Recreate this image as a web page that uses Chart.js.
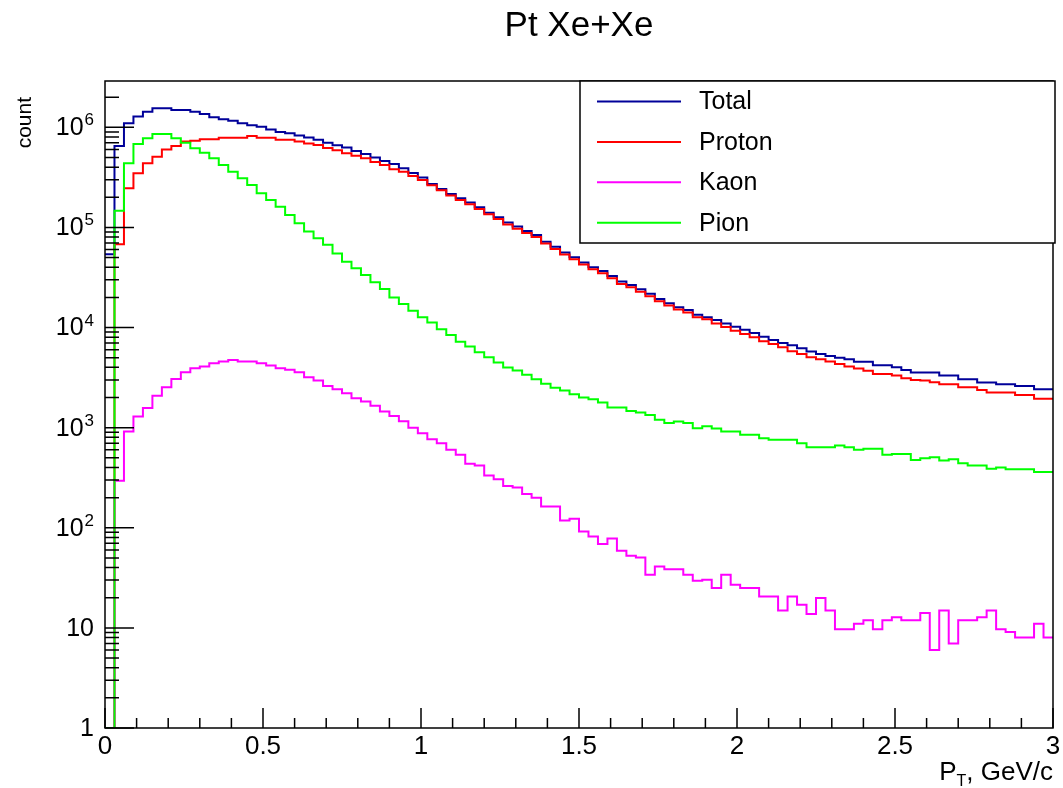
<!DOCTYPE html>
<html>
<head>
<meta charset="utf-8">
<script src="https://cdn.jsdelivr.net/npm/chart.js@4.4.1/dist/chart.umd.min.js"></script>
<style>
  html, body { margin: 0; padding: 0; background: #fff; }
</style>
</head>
<body>
<canvas id="ptChart" width="1063" height="788"></canvas>
<script>
const FONT = '"Liberation Sans", Arial, Helvetica, sans-serif';

// 100 bins, 0 .. 3 GeV/c
const binWidth = 0.03;
const xMin = 0, xMax = 3;
const yMin = 1, yMax = 2.9e6;

const seriesNames = ['Total', 'Proton', 'Kaon', 'Pion'];
const seriesColors = ['#000099', '#ff0000', '#ff00ff', '#00ff00'];

const total = [
  5.4e4, 6.5e5, 1.10e6, 1.28e6, 1.43e6, 1.55e6, 1.55e6, 1.49e6, 1.49e6, 1.43e6,
  1.36e6, 1.26e6, 1.20e6, 1.16e6, 1.10e6, 1.05e6, 1.01e6, 9.5e5, 9.0e5, 8.7e5,
  8.3e5, 7.9e5, 7.5e5, 7.0e5, 6.6e5, 6.3e5, 5.8e5, 5.4e5, 5.0e5, 4.6e5,
  4.3e5, 3.9e5, 3.5e5, 3.15e5, 2.72e5, 2.42e5, 2.16e5, 1.95e5, 1.77e5, 1.59e5,
  1.40e5, 1.26e5, 1.12e5, 1.02e5, 9.2e4, 8.4e4, 7.2e4, 6.4e4, 5.6e4, 5.04e4,
  4.45e4, 4.0e4, 3.67e4, 3.27e4, 2.88e4, 2.66e4, 2.41e4, 2.17e4, 1.93e4, 1.75e4,
  1.59e4, 1.50e4, 1.34e4, 1.27e4, 1.19e4, 1.10e4, 1.02e4, 9.5e3, 8.8e3, 8.1e3,
  7.5e3, 7.0e3, 6.65e3, 6.2e3, 5.75e3, 5.45e3, 5.2e3, 5.0e3, 4.82e3, 4.54e3,
  4.54e3, 4.2e3, 4.2e3, 4.01e3, 3.77e3, 3.55e3, 3.55e3, 3.55e3, 3.31e3, 3.31e3,
  3.05e3, 3.05e3, 2.82e3, 2.82e3, 2.72e3, 2.72e3, 2.61e3, 2.61e3, 2.42e3, 2.42e3
];

const proton = [
  1, 6.8e4, 2.46e5, 3.47e5, 4.37e5, 5.09e5, 6.0e5, 6.5e5, 7.2e5, 7.35e5,
  7.6e5, 7.6e5, 7.87e5, 7.87e5, 7.87e5, 8.2e5, 7.87e5, 7.87e5, 7.5e5, 7.5e5,
  7.2e5, 6.9e5, 6.65e5, 6.2e5, 5.9e5, 5.5e5, 5.2e5, 4.9e5, 4.5e5, 4.2e5,
  3.8e5, 3.6e5, 3.26e5, 2.97e5, 2.63e5, 2.35e5, 2.08e5, 1.88e5, 1.70e5, 1.53e5,
  1.35e5, 1.21e5, 1.07e5, 9.7e4, 8.8e4, 8.0e4, 6.9e4, 6.1e4, 5.35e4, 4.8e4,
  4.25e4, 3.82e4, 3.48e4, 3.1e4, 2.72e4, 2.52e4, 2.28e4, 2.05e4, 1.83e4, 1.66e4,
  1.51e4, 1.41e4, 1.27e4, 1.21e4, 1.10e4, 1.01e4, 9.3e3, 8.6e3, 8.0e3, 7.3e3,
  6.86e3, 6.36e3, 5.8e3, 5.45e3, 5.05e3, 4.82e3, 4.57e3, 4.33e3, 4.07e3, 3.89e3,
  3.71e3, 3.44e3, 3.44e3, 3.31e3, 3.12e3, 3.0e3, 2.95e3, 2.84e3, 2.72e3, 2.72e3,
  2.53e3, 2.53e3, 2.38e3, 2.24e3, 2.24e3, 2.24e3, 2.12e3, 2.12e3, 1.94e3, 1.94e3
];

const kaon = [
  1, 294, 914, 1290, 1567, 2077, 2535, 3070, 3580, 3930,
  4080, 4400, 4570, 4750, 4570, 4570, 4400, 4170, 3930, 3780,
  3580, 3190, 2950, 2610, 2420, 2210, 1970, 1820, 1650, 1450,
  1310, 1160, 1000, 881, 767, 700, 600, 535, 435, 419,
  333, 306, 262, 252, 217, 200, 163, 163, 118, 123,
  92, 82, 69, 78, 59, 52.5, 50.5, 34, 41, 38.6,
  38.6, 34, 29.5, 30.2, 25, 34, 27, 25, 25, 20.6,
  20.6, 14.9, 20.6, 17, 13.8, 19.9, 14.9, 9.7, 9.7, 11,
  11.9, 9.7, 11.9, 12.8, 11.9, 11.9, 14.1, 6.0, 14.9, 7.0,
  11.9, 11.9, 12.8, 14.9, 9.7, 9.1, 8.0, 8.0, 11, 8.0
];

const pion = [
  1, 1.47e5, 4.37e5, 6.8e5, 7.76e5, 8.57e5, 8.57e5, 7.76e5, 7.0e5, 6.17e5,
  5.58e5, 4.9e5, 4.2e5, 3.6e5, 3.09e5, 2.65e5, 2.19e5, 1.88e5, 1.61e5, 1.33e5,
  1.10e5, 9.1e4, 7.8e4, 6.7e4, 5.5e4, 4.55e4, 3.9e4, 3.35e4, 2.83e4, 2.43e4,
  2.0e4, 1.72e4, 1.47e4, 1.27e4, 1.12e4, 9.6e3, 8.4e3, 7.2e3, 6.45e3, 5.66e3,
  5.05e3, 4.47e3, 3.98e3, 3.72e3, 3.37e3, 3.05e3, 2.74e3, 2.51e3, 2.35e3, 2.16e3,
  2.0e3, 1.92e3, 1.78e3, 1.59e3, 1.59e3, 1.47e3, 1.42e3, 1.34e3, 1.20e3, 1.11e3,
  1.15e3, 1.11e3, 986, 1030, 980, 914, 914, 847, 847, 785,
  755, 755, 755, 700, 638, 638, 638, 663, 638, 600,
  614, 614, 535, 547, 547, 475, 495, 507, 469, 484,
  442, 419, 419, 388, 400, 385, 385, 385, 360, 360
];

// y axis labels (ROOT style 10^n)
const yTickValues = [1, 10, 100, 1e3, 1e4, 1e5, 1e6];
const yTickBases = ['1', '10', '10', '10', '10', '10', '10'];
const yTickExps = ['', '', '2', '3', '4', '5', '6'];

// histogram outline: one point at each bin's left edge, plus the closing edge
function toSteps(values) {
  const pts = values.map((v, i) => ({ x: i * binWidth, y: v }));
  pts.push({ x: values.length * binWidth, y: values[values.length - 1] });
  return pts;
}

const seriesValues = [total, proton, kaon, pion];

const rootFrame = {
  id: 'rootFrame',
  afterDatasetsDraw(chart) {
    const { ctx, chartArea: a, scales: { x, y } } = chart;
    ctx.save();
    ctx.strokeStyle = '#000';
    ctx.lineWidth = 1.5;
    ctx.strokeRect(a.left, a.top, a.right - a.left, a.bottom - a.top);

    // ticks pointing inside the frame
    ctx.beginPath();
    for (let i = 0; i <= 30; i++) {
      const px = x.getPixelForValue(i / 10);
      const len = i % 5 === 0 ? 20 : 10;
      ctx.moveTo(px, a.bottom);
      ctx.lineTo(px, a.bottom - len);
    }
    for (let d = 0; d <= 6; d++) {
      for (let m = 1; m <= 9; m++) {
        const v = m * Math.pow(10, d);
        if (v > yMax) break;
        const py = y.getPixelForValue(v);
        const len = m === 1 ? 29 : 14;
        ctx.moveTo(a.left, py);
        ctx.lineTo(a.left + len, py);
      }
    }
    ctx.stroke();

    // y labels with superscripts
    ctx.fillStyle = '#000';
    const right = a.left - 11;
    yTickValues.forEach((v, i) => {
      const py = y.getPixelForValue(v);
      let edge = right;
      if (yTickExps[i]) {
        ctx.font = '17px ' + FONT;
        ctx.textAlign = 'right';
        ctx.textBaseline = 'alphabetic';
        ctx.fillText(yTickExps[i], edge, py - 2);
        edge -= ctx.measureText(yTickExps[i]).width + 1;
      }
      ctx.font = '25px ' + FONT;
      ctx.textAlign = 'right';
      ctx.textBaseline = 'middle';
      ctx.fillText(yTickBases[i], edge, py + 1);
    });

    // y title
    ctx.save();
    ctx.translate(31, a.top + 16);
    ctx.rotate(-Math.PI / 2);
    ctx.font = '21px ' + FONT;
    ctx.textAlign = 'right';
    ctx.textBaseline = 'alphabetic';
    ctx.fillText('count', 0, 0);
    ctx.restore();

    // x title: P_T, GeV/c
    ctx.textAlign = 'left';
    ctx.textBaseline = 'alphabetic';
    ctx.font = '26px ' + FONT;
    const tail = ', GeV/c';
    const wTail = ctx.measureText(tail).width;
    const wP = ctx.measureText('P').width;
    ctx.font = '16px ' + FONT;
    const wT = ctx.measureText('T').width;
    let tx = a.right - wTail - wT - wP;
    const base = a.bottom + 52;
    ctx.font = '26px ' + FONT;
    ctx.fillText('P', tx, base);
    tx += wP;
    ctx.font = '16px ' + FONT;
    ctx.fillText('T', tx, base + 6);
    tx += wT;
    ctx.font = '26px ' + FONT;
    ctx.fillText(tail, tx, base);
    ctx.restore();
  },
  afterDraw(chart) {
    const { ctx, chartArea: a } = chart;
    const box = { left: 580, top: a.top, right: a.right + 2, bottom: 243 };
    ctx.save();
    ctx.fillStyle = '#fff';
    ctx.fillRect(box.left, box.top, box.right - box.left, box.bottom - box.top);
    ctx.strokeStyle = '#000';
    ctx.lineWidth = 1.5;
    ctx.strokeRect(box.left, box.top, box.right - box.left, box.bottom - box.top);
    ctx.font = '25px ' + FONT;
    ctx.textAlign = 'left';
    ctx.textBaseline = 'middle';
    chart.data.datasets.forEach((ds, i) => {
      const ly = box.top + 20.5 + i * 40.4;
      ctx.strokeStyle = ds.borderColor;
      ctx.lineWidth = 2;
      ctx.beginPath();
      ctx.moveTo(597, ly);
      ctx.lineTo(681, ly);
      ctx.stroke();
      ctx.fillStyle = '#000';
      ctx.fillText(ds.label, 699, ly + 1);
    });
    ctx.restore();
  }
};

Chart.defaults.font.family = FONT;
Chart.defaults.color = '#000';

new Chart(document.getElementById('ptChart'), {
  type: 'line',
  data: {
    datasets: seriesNames.map((name, i) => ({
      label: name,
      data: toSteps(seriesValues[i]),
      borderColor: seriesColors[i],
      backgroundColor: seriesColors[i],
      borderWidth: 2,
      pointRadius: 0,
      stepped: true,
      fill: false,
      order: seriesNames.length - 1 - i
    }))
  },
  options: {
    responsive: false,
    animation: false,
    layout: { padding: { left: 0, right: 10, top: 0, bottom: 0 } },
    plugins: {
      legend: { display: false },
      tooltip: { enabled: false },
      title: {
        display: true,
        text: 'Pt Xe+Xe',
        fullSize: false,
        color: '#000',
        font: { size: 35, weight: 'normal' },
        padding: { top: 5, bottom: 34 }
      }
    },
    scales: {
      x: {
        type: 'linear',
        min: xMin,
        max: xMax,
        grid: { display: false, drawTicks: false },
        border: { display: false },
        ticks: {
          stepSize: 0.5,
          font: { size: 26 },
          color: '#000',
          padding: 3,
          maxRotation: 0,
          callback: v => String(Number(v))
        },
        afterFit: s => { s.height = 60; s.paddingLeft = 0; s.paddingRight = 0; }
      },
      y: {
        type: 'logarithmic',
        min: yMin,
        max: yMax,
        grid: { display: false, drawTicks: false },
        border: { display: false },
        ticks: { display: false },
        afterFit: s => { s.width = 105; }
      }
    }
  },
  plugins: [rootFrame]
});
</script>
</body>
</html>
